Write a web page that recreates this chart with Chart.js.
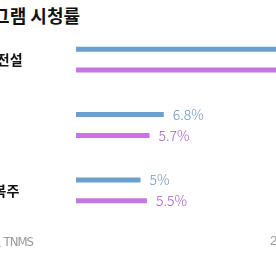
<!DOCTYPE html>
<html>
<head>
<meta charset="utf-8">
<script src="https://cdn.jsdelivr.net/npm/chart.js@4/dist/chart.umd.min.js"></script>
<style>
  body { margin: 0; background: #fff; }
  .wrap { position: relative; width: 276px; height: 260px; overflow: hidden; background: #fff; font-family: "Noto Sans CJK KR", sans-serif; }
  .title { position: absolute; top: 2px; right: 196px; white-space: nowrap; font-size: 18px; font-weight: bold; color: #111; }
  .src { position: absolute; top: 233px; right: 243px; white-space: nowrap; font-size: 13px; color: #999; font-family: "Liberation Sans Narrow", "DejaVu Sans Condensed", sans-serif; letter-spacing: -1px; }
  .date { position: absolute; top: 233px; left: 270px; white-space: nowrap; font-size: 13px; color: #999; font-family: "Liberation Sans", sans-serif; }
  .box { position: absolute; left: -83px; top: 0; width: 430px; height: 240px; }
</style>
</head>
<body>
<div class="wrap">
  <div class="title">수목드라마 프로그램 시청률</div>
  <div class="box"><canvas id="mycanvas" width="430" height="240"></canvas></div>
  <div class="src">자료 TNMS</div>
  <div class="date">2016.11.17</div>
</div>
<script>
var dramas = ['푸른 바다의 전설', '오 마이 금비', '역도요정 김복주'];
var ep1 = [16.4, 6.8, 5];
var ep2 = [15.9, 5.7, 5.5];
var seriesNames = ['1회', '2회'];
var barColors = ['#6a9fcf', '#c476e6'];
var textColors = ['#6996c4', '#a55cc6'];

var valueLabels = {
	id: 'valueLabels',
	afterDatasetsDraw: function(chart) {
		var ctx = chart.ctx;
		ctx.save();
		ctx.font = '300 14px "Noto Sans CJK KR", sans-serif';
		ctx.textBaseline = 'middle';
		chart.data.datasets.forEach(function(ds, i) {
			chart.getDatasetMeta(i).data.forEach(function(bar, j) {
				ctx.fillStyle = textColors[i];
				ctx.fillText(ds.data[j] + '%', bar.x + 9, bar.y);
			});
		});
		ctx.restore();
	}
};

var chartdata = {
	labels: dramas,
	datasets: [
		{ label: seriesNames[0], data: ep1, backgroundColor: barColors[0], maxBarThickness: 5 },
		{ label: seriesNames[1], data: ep2, backgroundColor: barColors[1], maxBarThickness: 5 }
	]
};

var ctx = document.getElementById('mycanvas');
var barGraph = new Chart(ctx, {
	type: 'bar',
	data: chartdata,
	plugins: [valueLabels],
	options: {
		indexAxis: 'y',
		responsive: false,
		animation: false,
		devicePixelRatio: 1,
		layout: { padding: { top: 27, bottom: 17, left: 9, right: 0 } },
		datasets: { bar: { categoryPercentage: 0.64, barPercentage: 1 } },
		plugins: { legend: { display: false }, tooltip: { enabled: false } },
		scales: {
			x: { min: 0, max: 21, display: false },
			y: {
				grid: { display: false },
				border: { display: false },
				afterFit: function(scale) { scale.width = 150; },
				ticks: {
					crossAlign: 'far',
					padding: 0,
					color: '#111',
					font: { size: 14, weight: 'bold', family: '"Noto Sans CJK KR", sans-serif' }
				}
			}
		}
	}
});
</script>
</body>
</html>
